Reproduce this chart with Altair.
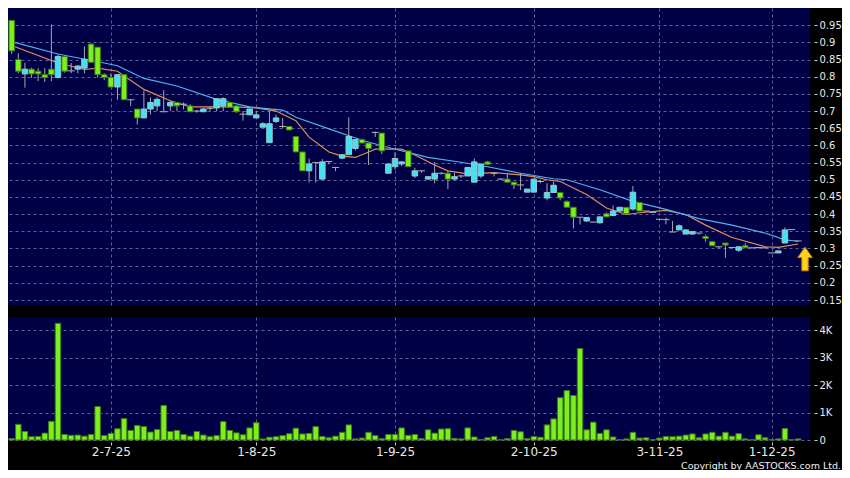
import altair as alt
import pandas as pd

# ---------------- data ----------------
open_ = [0.964, 0.850, 0.808, 0.822, 0.816, 0.806, 0.822, 0.798, 0.859, 0.817,
         0.822, 0.825, 0.895, 0.886, 0.806, 0.798, 0.770, 0.806, 0.733, 0.706,
         0.680, 0.706, 0.715, 0.698, 0.715, 0.725, 0.720, 0.715, 0.700, 0.698,
         0.708, 0.709, 0.715, 0.725, 0.715, 0.691, 0.689, 0.680, 0.653, 0.608,
         0.670, 0.655, 0.655, 0.626, 0.581, 0.526, 0.550, 0.502, 0.553, 0.536,
         0.563, 0.573, 0.591, 0.617, 0.607, 0.638, 0.636, 0.519, 0.538, 0.546,
         0.584, 0.511, 0.526, 0.502, 0.502, 0.519, 0.519, 0.502, 0.511, 0.511,
         0.493, 0.511, 0.552, 0.519, 0.502, 0.502, 0.493, 0.485, 0.464, 0.464,
         0.495, 0.447, 0.463, 0.463, 0.437, 0.420, 0.391, 0.380, 0.377, 0.375,
         0.401, 0.396, 0.409, 0.420, 0.415, 0.434, 0.409, 0.405, 0.385, 0.384,
         0.348, 0.354, 0.342, 0.342, 0.345, 0.335, 0.320, 0.305, 0.316, 0.303,
         0.295, 0.308, 0.302, 0.303, 0.302, 0.287, 0.287, 0.316, 0.355, 0.322]
high_ = [0.964, 0.868, 0.841, 0.826, 0.825, 0.825, 0.952, 0.865, 0.862, 0.840,
         0.834, 0.888, 0.897, 0.886, 0.810, 0.810, 0.806, 0.806, 0.733, 0.706,
         0.760, 0.740, 0.740, 0.761, 0.730, 0.725, 0.725, 0.720, 0.703, 0.710,
         0.715, 0.736, 0.740, 0.725, 0.715, 0.700, 0.706, 0.700, 0.668, 0.701,
         0.690, 0.680, 0.655, 0.626, 0.581, 0.562, 0.550, 0.560, 0.553, 0.536,
         0.573, 0.682, 0.617, 0.620, 0.607, 0.640, 0.636, 0.546, 0.580, 0.555,
         0.584, 0.535, 0.526, 0.509, 0.552, 0.522, 0.525, 0.520, 0.515, 0.536,
         0.562, 0.546, 0.555, 0.519, 0.505, 0.520, 0.493, 0.520, 0.473, 0.502,
         0.500, 0.490, 0.495, 0.463, 0.440, 0.420, 0.391, 0.390, 0.377, 0.392,
         0.405, 0.425, 0.420, 0.420, 0.482, 0.434, 0.410, 0.405, 0.385, 0.390,
         0.380, 0.370, 0.354, 0.350, 0.345, 0.340, 0.320, 0.305, 0.316, 0.303,
         0.305, 0.315, 0.303, 0.303, 0.305, 0.287, 0.293, 0.361, 0.355, 0.322]
low_ = [0.866, 0.810, 0.768, 0.797, 0.787, 0.785, 0.787, 0.795, 0.812, 0.810,
        0.810, 0.810, 0.840, 0.798, 0.790, 0.770, 0.733, 0.733, 0.715, 0.661,
        0.680, 0.690, 0.700, 0.698, 0.700, 0.700, 0.705, 0.698, 0.695, 0.698,
        0.700, 0.700, 0.700, 0.711, 0.695, 0.672, 0.689, 0.680, 0.653, 0.608,
        0.665, 0.650, 0.645, 0.581, 0.526, 0.492, 0.492, 0.500, 0.545, 0.525,
        0.560, 0.573, 0.585, 0.607, 0.543, 0.625, 0.575, 0.519, 0.530, 0.540,
        0.538, 0.505, 0.520, 0.500, 0.490, 0.515, 0.473, 0.500, 0.505, 0.511,
        0.493, 0.505, 0.545, 0.510, 0.500, 0.493, 0.473, 0.470, 0.464, 0.464,
        0.490, 0.440, 0.463, 0.440, 0.420, 0.358, 0.370, 0.378, 0.375, 0.372,
        0.392, 0.396, 0.405, 0.401, 0.410, 0.409, 0.408, 0.405, 0.385, 0.370,
        0.348, 0.354, 0.342, 0.340, 0.340, 0.320, 0.308, 0.300, 0.273, 0.300,
        0.290, 0.302, 0.300, 0.300, 0.300, 0.287, 0.287, 0.316, 0.355, 0.322]
close_ = [0.875, 0.816, 0.822, 0.808, 0.808, 0.798, 0.806, 0.859, 0.816, 0.817,
          0.831, 0.851, 0.842, 0.806, 0.798, 0.770, 0.806, 0.733, 0.733, 0.680,
          0.706, 0.725, 0.734, 0.698, 0.725, 0.715, 0.720, 0.698, 0.700, 0.706,
          0.708, 0.736, 0.736, 0.711, 0.698, 0.691, 0.706, 0.689, 0.663, 0.663,
          0.680, 0.655, 0.645, 0.581, 0.526, 0.546, 0.550, 0.552, 0.553, 0.536,
          0.573, 0.626, 0.617, 0.607, 0.591, 0.638, 0.584, 0.546, 0.562, 0.552,
          0.538, 0.526, 0.526, 0.509, 0.519, 0.519, 0.502, 0.509, 0.511, 0.536,
          0.552, 0.546, 0.545, 0.519, 0.502, 0.493, 0.485, 0.485, 0.473, 0.502,
          0.495, 0.463, 0.484, 0.447, 0.420, 0.391, 0.391, 0.390, 0.377, 0.392,
          0.392, 0.409, 0.420, 0.401, 0.464, 0.409, 0.409, 0.405, 0.385, 0.384,
          0.348, 0.366, 0.354, 0.349, 0.345, 0.329, 0.308, 0.305, 0.310, 0.303,
          0.305, 0.302, 0.302, 0.303, 0.302, 0.287, 0.293, 0.354, 0.355, 0.322]
volume_k = [0.05, 0.57, 0.31, 0.12, 0.13, 0.25, 0.68, 4.25, 0.20, 0.17,
            0.18, 0.14, 0.20, 1.22, 0.16, 0.24, 0.41, 0.78, 0.35, 0.53,
            0.49, 0.29, 0.38, 1.26, 0.31, 0.35, 0.20, 0.14, 0.31, 0.18,
            0.12, 0.16, 0.67, 0.35, 0.26, 0.19, 0.44, 0.63, 0.04, 0.10,
            0.12, 0.16, 0.23, 0.43, 0.22, 0.24, 0.49, 0.13, 0.08, 0.14,
            0.28, 0.55, 0.04, 0.07, 0.28, 0.16, 0.05, 0.20, 0.20, 0.44,
            0.17, 0.20, 0.05, 0.37, 0.25, 0.40, 0.41, 0.06, 0.04, 0.44,
            0.11, 0.02, 0.08, 0.13, 0.01, 0.05, 0.35, 0.30, 0.05, 0.13,
            0.10, 0.55, 0.77, 1.54, 1.80, 1.62, 3.33, 0.37, 0.65, 0.24,
            0.37, 0.11, 0.01, 0.04, 0.28, 0.07, 0.08, 0.01, 0.07, 0.13,
            0.12, 0.14, 0.18, 0.22, 0.08, 0.22, 0.28, 0.14, 0.28, 0.14,
            0.23, 0.04, 0.01, 0.19, 0.08, 0.01, 0.04, 0.42, 0.01, 0.04]

ma_short_idx = [0, 7, 11, 13, 16, 20, 24, 27, 34, 37, 40, 43, 45, 48, 50, 52, 54, 55,
                59, 61, 64, 66, 69, 73, 77, 79, 81, 83, 87, 90, 93, 95, 99, 102, 105,
                109, 114, 116, 119]
ma_short_val = [0.891, 0.840, 0.821, 0.825, 0.816, 0.763, 0.730, 0.712, 0.712, 0.709,
                0.700, 0.672, 0.624, 0.581, 0.569, 0.565, 0.581, 0.589, 0.589, 0.572,
                0.543, 0.526, 0.517, 0.521, 0.514, 0.509, 0.500, 0.495, 0.457, 0.418,
                0.399, 0.404, 0.411, 0.399, 0.368, 0.332, 0.305, 0.303, 0.313]
ma_long_idx = [0, 7, 14, 16, 20, 25, 31, 36, 41, 43, 48, 53, 57, 63, 68, 72, 77, 82,
               84, 89, 94, 99, 104, 109, 114, 117, 119]
ma_long_val = [0.902, 0.866, 0.840, 0.832, 0.795, 0.773, 0.734, 0.712, 0.703, 0.682,
               0.648, 0.615, 0.594, 0.565, 0.551, 0.538, 0.519, 0.503, 0.500, 0.471,
               0.437, 0.414, 0.387, 0.368, 0.345, 0.325, 0.321]

tick_idx = [15, 37, 58, 79, 98, 115]
tick_labels = ["2-7-25", "1-8-25", "1-9-25", "2-10-25", "3-11-25", "1-12-25"]
price_ticks = [0.15, 0.2, 0.25, 0.3, 0.35, 0.4, 0.45, 0.5, 0.55, 0.6, 0.65, 0.7,
               0.75, 0.8, 0.85, 0.9, 0.95]
volume_ticks = [0, 1, 2, 3, 4]
copyright_text = ["Copyright by AASTOCKS.com Ltd."]

# ---------------- styling ----------------
NAVY = "#000046"
GRID = "#6a6aa0"
CYAN = "#3ee4f2"
CYAN_EDGE = "#9ec4cc"
GREEN = "#7cf01e"
GREEN_EDGE = "#3f7a14"
WICK = "#a8a8a8"
ORANGE = "#e38f5a"
BLUE = "#4db2ee"
FONT = "DejaVu Sans"

PW = 802        # plot width (whole chart must stay inside 834 x 462)
PH = 297        # price panel height
VH = 123        # volume panel height
GAP = 11

n = len(open_)
kind = ["up" if c > o else ("down" if c < o else "flat") for o, c in zip(open_, close_)]
candles = pd.DataFrame({"i": list(range(n)), "open": open_, "high": high_, "low": low_,
                        "close": close_, "kind": kind, "vol": volume_k})
bodies = candles[candles["kind"] != "flat"]
flats = candles[candles["kind"] == "flat"]
ma_s = pd.DataFrame({"i": ma_short_idx, "v": ma_short_val})
ma_l = pd.DataFrame({"i": ma_long_idx, "v": ma_long_val})

xs = alt.Scale(domain=[0.194, 120.04], nice=False, zero=False)
ys = alt.Scale(domain=[0.1355, 1.0], nice=False, zero=False)
vs = alt.Scale(domain=[0, 4.48], nice=False, zero=True)

label_expr = ("[" + ",".join("'%s'" % t for t in tick_labels) + "][indexof(["
              + ",".join(str(t) for t in tick_idx) + "], round(datum.value))]")

x_grid_axis = alt.Axis(values=tick_idx, labels=False, ticks=False, domain=False,
                       grid=True, title=None)
y_price_axis = alt.Axis(orient="right", values=price_ticks, format=".2~f", offset=4,
                        tickSize=3, labelPadding=2, domain=False, grid=True, title=None)


def X(field="i"):
    return alt.X(field + ":Q", scale=xs, axis=x_grid_axis)


def Y(field):
    return alt.Y(field + ":Q", scale=ys, axis=y_price_axis)


line_s = alt.Chart(ma_s).mark_line(color=ORANGE, strokeWidth=1.2).encode(x=X(), y=Y("v"))
line_l = alt.Chart(ma_l).mark_line(color=BLUE, strokeWidth=1.2).encode(x=X(), y=Y("v"))
wicks = alt.Chart(candles).mark_rule(color=WICK, strokeWidth=1).encode(
    x=X(), y=Y("low"), y2="high:Q"
)
body = alt.Chart(bodies).mark_bar(size=5.5, strokeWidth=1).encode(
    x=X(), y=Y("open"), y2="close:Q",
    color=alt.Color("kind:N", scale=alt.Scale(domain=["up", "down"], range=[CYAN, GREEN]), legend=None),
    stroke=alt.Stroke("kind:N", scale=alt.Scale(domain=["up", "down"], range=[CYAN_EDGE, GREEN_EDGE]), legend=None),
)
doji = alt.Chart(flats).mark_tick(orient="horizontal", size=7, thickness=1, color="#b4b4b4", opacity=1).encode(
    x=X(), y=Y("close")
)
ARROW = "M0,-1 L0.62,-0.12 L0.27,-0.12 L0.27,1 L-0.27,1 L-0.27,-0.12 L-0.62,-0.12 Z"
arrow = alt.Chart(pd.DataFrame({"a": [0]})).mark_point(
    shape=ARROW, size=560, filled=True, fill="#ffd21a", stroke="#c07a00", strokeWidth=1, opacity=1
).encode(x=alt.value(797), y=alt.value(251))

price = alt.layer(line_s, line_l, wicks, body, doji, arrow).properties(width=PW, height=PH)

vol_bars = alt.Chart(candles).mark_bar(size=5.5, color=GREEN, stroke=GREEN_EDGE, strokeWidth=1).encode(
    x=alt.X("i:Q", scale=xs, axis=alt.Axis(values=tick_idx, labelExpr=label_expr, offset=2,
                                           tickSize=3, labelPadding=1, domain=False, grid=True,
                                           title=None, labelFontSize=12)),
    y=alt.Y("vol:Q", scale=vs, axis=alt.Axis(orient="right", values=volume_ticks, offset=4,
                                             tickSize=3, labelPadding=2, domain=False, grid=True,
                                             title=None,
                                             labelExpr="datum.value == 0 ? '0' : datum.value + 'K'")),
)
copy_txt = alt.Chart(pd.DataFrame({"t": copyright_text})).mark_text(
    align="right", baseline="middle", fontSize=9.5, color="#f0f0f0", font=FONT
).encode(x=alt.value(833), y=alt.value(148.5), text="t:N")

volume = alt.layer(vol_bars, copy_txt).properties(width=PW, height=VH)

chart = alt.vconcat(price, volume, spacing=GAP).properties(
    padding=0, background="black"
).configure_view(fill=NAVY, stroke=None).configure_axis(
    labelFont=FONT, labelFontSize=10, labelColor="#e8e8e8", tickColor="#cfcfcf",
    gridColor=GRID, gridDash=[3, 3], gridWidth=1, gridOpacity=0.9
)

chart.save("out.html", embed_options={"renderer": "svg", "actions": False})
